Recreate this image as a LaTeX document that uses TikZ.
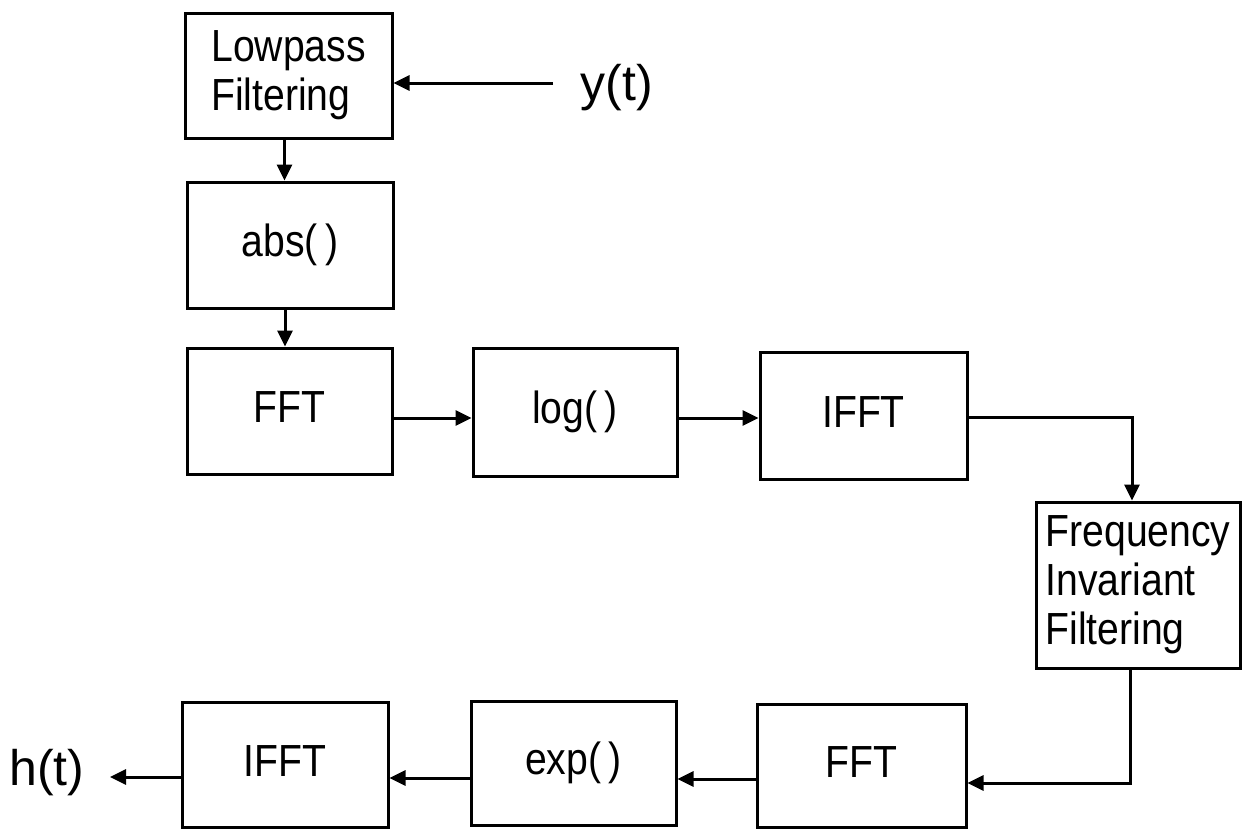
\documentclass[tikz,border=0pt]{standalone}
\usepackage{fontspec}
\setmainfont{Liberation Sans}
\newfontfamily\boxfont[FakeStretch=0.87]{Liberation Sans}
\usetikzlibrary{arrows.meta}
\begin{document}
\begin{tikzpicture}[x=1pt,y=-1pt,
  blk/.style={draw, line width=3pt, inner sep=0pt, align=left,
    font=\boxfont\fontsize{45}{49}\selectfont},
  one/.style={blk, text height=32.5pt, text depth=9.5pt},
  lbl/.style={font=\fontsize{50}{54}\selectfont, inner sep=0pt, anchor=base},
  arr/.style={line width=3pt, -{Triangle[length=16pt,width=15pt]}}]
\useasboundingbox (0,0) rectangle (1247,830);
% boxes
\node[blk, minimum width=207pt, minimum height=125pt] (lp) at (288.5,75.5) {Lowpass\\Filtering};
\node[one, minimum width=206pt, minimum height=126pt] (abs) at (290,245) {abs(\,)};
\node[one, minimum width=205pt, minimum height=126pt] (fft1) at (289.5,411) {FFT};
\node[one, minimum width=204pt, minimum height=128pt] (log) at (575,412) {log(\,)};
\node[one, minimum width=207pt, minimum height=127pt] (ifft1) at (863.5,415.5) {IFFT};
\node[blk, minimum width=204pt, minimum height=166pt] (fif) at (1138,585) {Frequency\\Invariant\\Filtering};
\node[one, minimum width=209pt, minimum height=123pt] (fft2) at (861.5,765.5) {FFT};
\node[one, minimum width=205pt, minimum height=124pt] (exp) at (573.5,763) {exp(\,)};
\node[one, minimum width=206pt, minimum height=125pt] (ifft2) at (285,764.5) {IFFT};
% labels
\node[lbl] (y) at (617,100) {y(t)};
\node[lbl] (h) at (47,785) {h(t)};
\coordinate (yin) at (553,83);
\coordinate (hout) at (110,777);
% connectors
\draw[arr] (yin) -- (yin -| lp.east);
\draw[arr] ([xshift=-4pt]lp.south) -- ([xshift=-4pt]lp.south |- abs.north);
\draw[arr] ([xshift=-5pt]abs.south) -- ([xshift=-5pt]abs.south |- fft1.north);
\draw[arr] ([yshift=-7pt]fft1.east) -- ([yshift=-7pt]fft1.east -| log.west);
\draw[arr] ([yshift=-6pt]log.east) -- ([yshift=-6pt]log.east -| ifft1.west);
\draw[arr] ([yshift=-1.5pt]ifft1.east) -| ([xshift=-6pt]fif.north);
\draw[arr] ([xshift=-8pt]fif.south) |- ([yshift=-17.5pt]fft2.east);
\draw[arr] ([yshift=-13.5pt]fft2.west) -- ([yshift=-13.5pt]fft2.west -| exp.east);
\draw[arr] ([yshift=-15pt]exp.west) -- ([yshift=-15pt]exp.west -| ifft2.east);
\draw[arr] (ifft2.west |- hout) -- (hout);
\end{tikzpicture}
\end{document}
